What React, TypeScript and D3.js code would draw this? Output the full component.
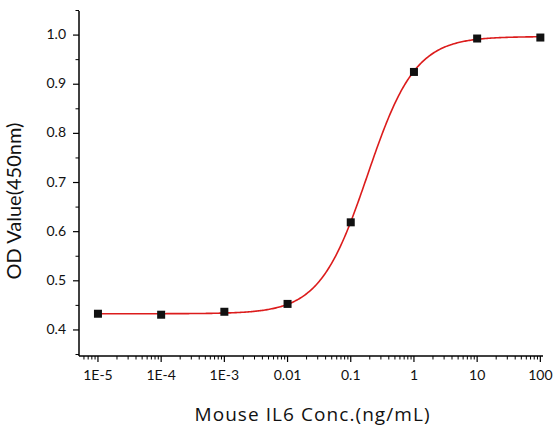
import React from "react";
import * as d3 from "d3";

const concentrations = [1e-5, 1e-4, 1e-3, 0.01, 0.1, 1, 10, 100];
const odValues = [0.433, 0.431, 0.437, 0.453, 0.619, 0.925, 0.993, 0.995];
const xTickValues = [1e-5, 1e-4, 1e-3, 0.01, 0.1, 1, 10, 100];
const xTickLabels = ["1E-5", "1E-4", "1E-3", "0.01", "0.1", "1", "10", "100"];
const yTickValues = [0.4, 0.5, 0.6, 0.7, 0.8, 0.9, 1.0];
// 4-parameter logistic fit parameters (bottom, top, EC50, hill slope)
const fitBottom = 0.433;
const fitTop = 0.997;
const fitEC50 = 0.184;
const fitHill = 1.15;

const W = 555;
const H = 427;
const left = 79;
const right = 543;
const top = 11;
const bottom = 356;

export default function App() {
  const x = d3.scaleLog().domain([Math.pow(10, -5.3), Math.pow(10, 2.042)]).range([left, right]);
  const y = d3.scaleLinear().domain([0.347, 1.049]).range([bottom, top]);

  const fit = (c: number) => fitTop + (fitBottom - fitTop) / (1 + Math.pow(c / fitEC50, fitHill));
  const [lx0, lx1] = [Math.log10(1e-5), Math.log10(100)];
  const curvePts: [number, number][] = d3.range(0, 401).map((i) => {
    const c = Math.pow(10, lx0 + ((lx1 - lx0) * i) / 400);
    return [x(c), y(fit(c))];
  });
  const line = d3.line().curve(d3.curveLinear);

  const minorX: number[] = [];
  for (let e = -6; e <= 2; e++) {
    for (let m = 2; m <= 9; m++) {
      const v = m * Math.pow(10, e);
      if (x(v) >= left && x(v) <= right) minorX.push(v);
    }
  }
  const minorY = [0.35, 0.45, 0.55, 0.65, 0.75, 0.85, 0.95, 1.05].filter((v) => y(v) >= top - 0.5 && y(v) <= bottom);

  const font = "Lato, 'Open Sans', sans-serif";
  const titleFont = "'Open Sans', Lato, sans-serif";
  const sq = 8;

  return (
    <div style={{ position: "fixed", left: 0, top: 0 }}>
      <svg width={W} height={H} style={{ display: "block", background: "#fff" }}>
        {/* curve */}
        <path d={line(curvePts) || ""} fill="none" stroke="#dc1c1c" strokeWidth={1.6} />
        {/* points */}
        {concentrations.map((c, i) => (
          <rect key={i} x={x(c) - sq / 2} y={y(odValues[i]) - sq / 2} width={sq} height={sq} fill="#111" />
        ))}
        {/* axes */}
        <line x1={left} y1={top} x2={left} y2={bottom} stroke="#000" strokeWidth={1.5} />
        <line x1={left} y1={bottom} x2={right} y2={bottom} stroke="#000" strokeWidth={1.5} />
        {xTickValues.map((v, i) => (
          <g key={"xt" + i}>
            <line x1={x(v)} x2={x(v)} y1={bottom} y2={bottom + 6} stroke="#000" strokeWidth={1.2} />
            <text x={x(v)} y={bottom + 24} textAnchor="middle" fontFamily={font} fontSize={14} fill="#111">
              {xTickLabels[i]}
            </text>
          </g>
        ))}
        {minorX.map((v, i) => (
          <line key={"xm" + i} x1={x(v)} x2={x(v)} y1={bottom} y2={bottom + 3.5} stroke="#000" strokeWidth={1} />
        ))}
        {yTickValues.map((v, i) => (
          <g key={"yt" + i}>
            <line x1={left - 6} x2={left} y1={y(v)} y2={y(v)} stroke="#000" strokeWidth={1.2} />
            <text x={left - 13} y={y(v) + 4} textAnchor="end" fontFamily={font} fontSize={14} fill="#111">
              {v.toFixed(1)}
            </text>
          </g>
        ))}
        {minorY.map((v, i) => (
          <line key={"ym" + i} x1={left - 3.5} x2={left} y1={y(v)} y2={y(v)} stroke="#000" strokeWidth={1} />
        ))}
        <text
          transform={`translate(21,201) rotate(-90)`}
          textAnchor="middle"
          fontFamily={font}
          fontSize={20}
          fill="#111"
        >
          OD Value(450nm)
        </text>
        <text x={312} y={421} textAnchor="middle" fontFamily={titleFont} fontSize={19} textLength={235} fill="#111">
          Mouse IL6 Conc.(ng/mL)
        </text>
      </svg>
    </div>
  );
}
